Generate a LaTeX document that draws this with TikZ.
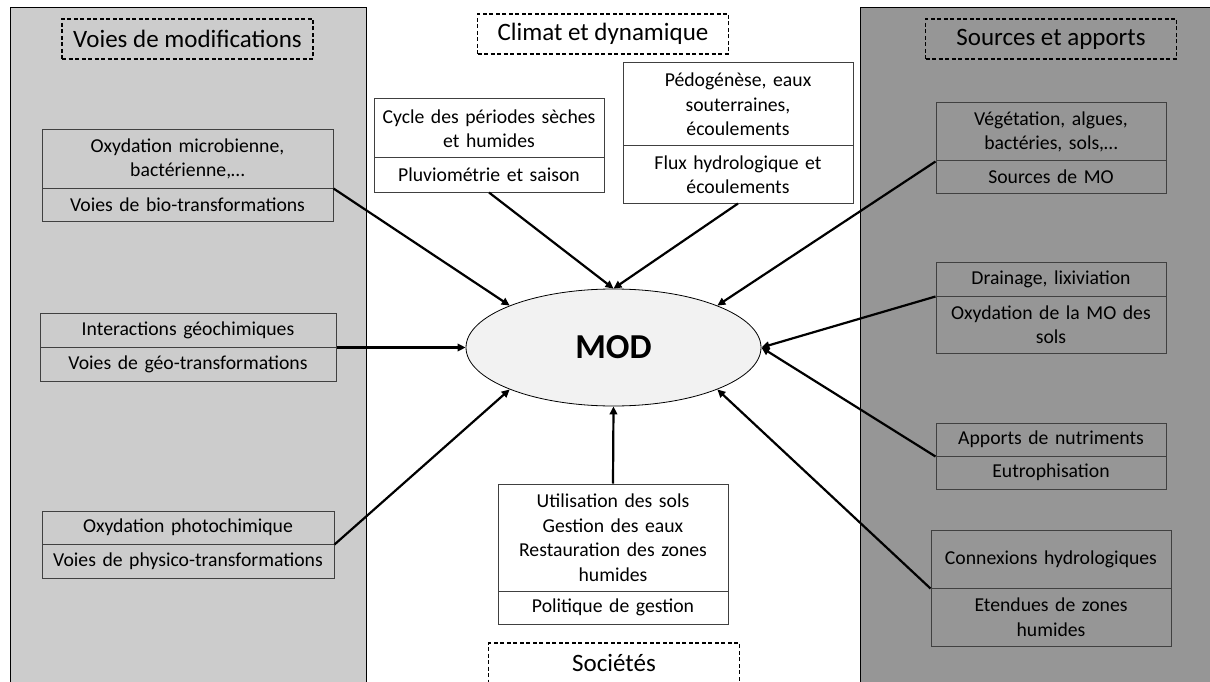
\documentclass[tikz,border=0pt]{standalone}
\usepackage{fontspec}
\setmainfont{Carlito}
\usetikzlibrary{arrows.meta,shapes.geometric}
\definecolor{panelleft}{HTML}{CCCCCC}
\definecolor{panelright}{HTML}{969696}
\definecolor{boxline}{HTML}{404040}
\definecolor{modfill}{HTML}{F2F2F2}
\tikzset{
	part/.style={draw=boxline, line width=1pt, align=center, inner sep=2pt, font=\fontsize{19.7}{24.5}\selectfont},
	heading/.style={draw, line width=1.3pt, dash pattern=on 4pt off 2.5pt, minimum width=251pt, minimum height=40pt, inner sep=0pt, font=\fontsize{25}{28}\selectfont},
	flow/.style={line width=2.2pt, -{Triangle[length=8pt,width=7.5pt]}}
}
\begin{document}
\begin{tikzpicture}[x=1pt,y=-1pt]
	\clip (0,0) rectangle (1210,682);
	\fill[white] (0,0) rectangle (1210,682);
	\filldraw[fill=panelleft, draw=black, line width=1pt] (10,8) rectangle (366,700);
	\filldraw[fill=panelright, draw=black, line width=1pt] (860,8) rectangle (1230,700);

	\node[heading] (hmodif) at (187.5,39) {Voies de modifications};
	\node[heading] (hclimat) at (603,34) {Climat et dynamique};
	\node[heading] (hsources) at (1051,39) {Sources et apports};
	\node[heading] (hsoc) at (614,663) {Sociétés};

	\node[ellipse, draw, fill=modfill, line width=0.8pt, minimum width=295pt, minimum height=117pt, inner sep=0pt, font=\fontsize{35}{38}\selectfont\bfseries] (mod) at (613.5,347.5) {MOD};

	\node[part, minimum width=291pt, minimum height=58pt, text width=285pt] (l1a) at (187.5,159) {Oxydation microbienne,\\bactérienne,…};
	\node[part, minimum width=291pt, minimum height=33pt, text width=285pt] (l1b) at (187.5,204.5) {Voies de bio-transformations};
	\node[part, minimum width=296pt, minimum height=34pt, text width=290pt] (l2a) at (188,330) {Interactions géochimiques};
	\node[part, minimum width=296pt, minimum height=34pt, text width=290pt] (l2b) at (188,364) {Voies de géo-transformations};
	\node[part, minimum width=292pt, minimum height=33pt, text width=286pt] (l3a) at (188,527.5) {Oxydation photochimique};
	\node[part, minimum width=292pt, minimum height=34pt, text width=286pt] (l3b) at (188,561) {Voies de physico-transformations};

	\node[part, minimum width=230pt, minimum height=59pt, text width=224pt] (c1a) at (489,128.5) {Cycle des périodes sèches\\et humides};
	\node[part, minimum width=230pt, minimum height=34pt, text width=224pt] (c1b) at (489,175) {Pluviométrie et saison};
	\node[part, minimum width=230pt, minimum height=83pt, text width=224pt] (c2a) at (738,104.5) {Pédogénèse, eaux\\souterraines,\\écoulements};
	\node[part, minimum width=230pt, minimum height=57pt, text width=224pt] (c2b) at (738,174.5) {Flux hydrologique et\\écoulements};

	\node[part, minimum width=230pt, minimum height=58pt, text width=224pt] (r1a) at (1051,132) {Végétation, algues,\\bactéries, sols,…};
	\node[part, minimum width=230pt, minimum height=32pt, text width=224pt] (r1b) at (1051,177) {Sources de MO};
	\node[part, minimum width=230pt, minimum height=34pt, text width=224pt] (r2a) at (1051,279) {Drainage, lixiviation};
	\node[part, minimum width=230pt, minimum height=57pt, text width=224pt] (r2b) at (1051,324.5) {Oxydation de la MO des\\sols};
	\node[part, minimum width=230pt, minimum height=33pt, text width=224pt] (r3a) at (1051,439.5) {Apports de nutriments};
	\node[part, minimum width=230pt, minimum height=33pt, text width=224pt] (r3b) at (1051,472.5) {Eutrophisation};
	\node[part, minimum width=240pt, minimum height=58pt, text width=234pt] (r4a) at (1051,559) {Connexions hydrologiques};
	\node[part, minimum width=240pt, minimum height=58pt, text width=234pt] (r4b) at (1051,617) {Etendues de zones\\humides};

	\node[part, minimum width=230pt, minimum height=107pt, text width=224pt] (s1a) at (613,537.5) {Utilisation des sols\\Gestion des eaux\\Restauration des zones\\humides};
	\node[part, minimum width=230pt, minimum height=33pt, text width=224pt] (s1b) at (613,607.5) {Politique de gestion};

	\draw[flow] (l1a.south east) -- (mod.158);
	\draw[flow] (l2a.south east) -- (mod.west);
	\draw[flow] (l3a.south east) -- (mod.202);
	\draw[flow] (c1b.south) -- (mod.north);
	\draw[flow] (c2b.south) -- (mod.north);
	\draw[flow] (r1a.south west) -- (mod.22);
	\draw[flow] (r2a.south west) -- (mod.east);
	\draw[flow] (r3a.south west) -- (mod.east);
	\draw[flow] (r4a.south west) -- (mod.338);
	\draw[flow] (s1a.north) -- (mod.south);
\end{tikzpicture}
\end{document}
